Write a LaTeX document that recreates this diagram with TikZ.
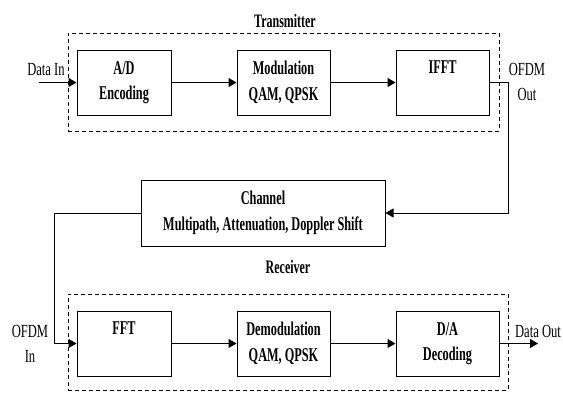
\documentclass[tikz,border=0pt]{standalone}
\usepackage{fontspec}
\setmainfont{Liberation Serif}[FakeStretch=0.68, BoldFeatures={FakeStretch=0.63}]
\usetikzlibrary{arrows.meta}
\tikzset{
  blk/.style={draw, line width=1pt, minimum height=65pt, inner sep=0pt, align=center,
    font=\fontsize{19.5}{25.5}\selectfont\bfseries},
  grp/.style={draw, line width=0.9pt, dash pattern=on 4pt off 3pt, inner sep=0pt},
  lbl/.style={align=center, inner sep=0pt, font=\fontsize{18.5}{25}\selectfont},
  hdr/.style={inner sep=0pt, font=\fontsize{19}{26}\selectfont\bfseries},
  arr/.style={line width=1pt, -{Triangle[length=8pt,width=9pt]}},
  ln/.style={line width=1pt}
}
\begin{document}
\begin{tikzpicture}[x=1pt,y=-1pt]
\useasboundingbox (0,0) rectangle (563,392);
% group boxes
\node[grp, minimum width=431pt, minimum height=98pt] (tx) at (283.5,82) {};
\node[grp, minimum width=440pt, minimum height=96pt] (rx) at (288,342) {};
\node[hdr] (txl) at (285,21) {Transmitter};
\node[hdr] (rxl) at (288,267) {Receiver};
% transmitter blocks
\node[blk, minimum width=94pt] (ad) at (124,82.5) {A/D\\Encoding};
\node[blk, minimum width=93pt] (mod) at (283.5,82.5) {Modulation\\QAM, QPSK};
\node[blk, minimum width=93pt] (ifft) at (442.5,82.5) {IFFT\\\phantom{Xg}};
% channel
\node[blk, minimum width=244pt, minimum height=66pt] (ch) at (263,213) {Channel\\Multipath, Attenuation, Doppler Shift};
% receiver blocks
\node[blk, minimum width=94pt] (fft) at (124,343.5) {FFT\\\phantom{Xg}};
\node[blk, minimum width=93pt] (dem) at (283.5,343.5) {Demodulation\\QAM, QPSK};
\node[blk, minimum width=103pt] (da) at (447.5,343.5) {D/A\\Decoding};
% labels
\node[lbl] (din) at (46,70) {Data In};
\node[lbl] (oout) at (527,82) {OFDM\\Out};
\node[lbl] (oin) at (30,344) {OFDM\\In};
\node[lbl] (dout) at (538,331) {Data Out};
% coordinates
\coordinate (dinstart) at (39,82.5);
\coordinate (txturn) at (508,82.5);
\coordinate (rxturn) at (54,343.5);
\coordinate (doutend) at (538,343.5);
% connectors
\draw[arr] (dinstart) -- (ad.west);
\draw[arr] (ad.east) -- (mod.west);
\draw[arr] (mod.east) -- (ifft.west);
\draw[arr] (ifft.east) -- (txturn) |- (ch.east);
\draw[arr] (ch.west) -| (rxturn) -- (fft.west);
\draw[arr] (fft.east) -- (dem.west);
\draw[arr] (dem.east) -- (da.west);
\draw[arr] (da.east) -- (doutend);
\end{tikzpicture}
\end{document}
